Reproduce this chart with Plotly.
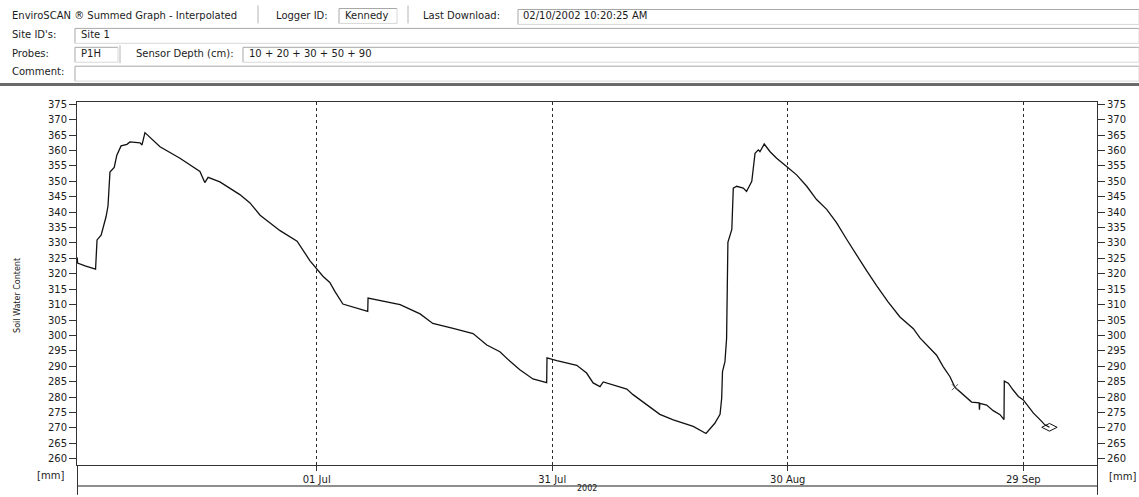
import plotly.graph_objects as go

# ---- summed soil water content, probe P1H (mm) ----
dates = [
    "2002-05-31 12:00", "2002-05-31 13:00", "2002-06-01 12:00", "2002-06-02 20:00",
    "2002-06-03 00:30", "2002-06-03 13:00", "2002-06-04 04:00", "2002-06-04 10:00",
    "2002-06-04 16:00", "2002-06-05 05:00", "2002-06-05 13:00", "2002-06-06 02:00",
    "2002-06-06 20:00", "2002-06-07 05:00", "2002-06-08 12:00", "2002-06-08 18:00",
    "2002-06-09 03:00", "2002-06-11 01:00", "2002-06-13 14:00", "2002-06-16 03:00",
    "2002-06-16 18:00", "2002-06-17 04:00", "2002-06-18 16:00", "2002-06-21 05:00",
    "2002-06-22 12:00", "2002-06-23 19:00", "2002-06-26 08:00", "2002-06-28 12:00",
    "2002-06-30 03:00", "2002-07-01 00:00", "2002-07-01 19:00", "2002-07-02 16:00",
    "2002-07-03 08:00", "2002-07-04 08:00", "2002-07-07 12:00", "2002-07-07 13:00",
    "2002-07-09 01:00", "2002-07-11 15:00", "2002-07-14 04:00", "2002-07-15 19:00",
    "2002-07-18 09:00", "2002-07-20 22:00", "2002-07-22 16:00", "2002-07-24 08:00",
    "2002-07-25 15:00", "2002-07-26 21:00", "2002-07-28 13:00", "2002-07-30 07:00",
    "2002-07-30 08:00", "2002-07-31 14:00", "2002-08-03 03:00", "2002-08-04 09:00",
    "2002-08-05 05:00", "2002-08-06 02:00", "2002-08-06 12:00", "2002-08-07 19:00",
    "2002-08-09 12:00", "2002-08-10 07:00", "2002-08-12 01:00", "2002-08-13 17:00",
    "2002-08-15 10:00", "2002-08-17 23:00", "2002-08-19 14:00", "2002-08-20 17:00",
    "2002-08-21 09:00", "2002-08-21 14:00", "2002-08-21 16:30", "2002-08-22 00:00",
    "2002-08-22 05:00", "2002-08-22 07:00", "2002-08-22 09:00", "2002-08-22 21:00",
    "2002-08-23 01:30", "2002-08-23 12:00", "2002-08-24 08:00", "2002-08-24 18:00",
    "2002-08-25 10:00", "2002-08-25 20:00", "2002-08-26 06:00", "2002-08-26 11:00",
    "2002-08-27 00:00", "2002-08-27 18:00", "2002-08-28 14:00", "2002-08-30 02:00",
    "2002-08-31 03:00", "2002-09-01 10:00", "2002-09-02 16:00", "2002-09-03 23:00",
    "2002-09-05 05:00", "2002-09-06 12:00", "2002-09-07 19:00", "2002-09-09 01:00",
    "2002-09-10 08:00", "2002-09-11 18:00", "2002-09-13 07:00", "2002-09-15 00:00",
    "2002-09-15 20:00", "2002-09-16 17:00", "2002-09-17 23:00", "2002-09-18 19:00",
    "2002-09-19 16:00", "2002-09-20 07:00", "2002-09-21 09:00", "2002-09-22 10:00",
    "2002-09-23 09:00", "2002-09-23 10:00", "2002-09-23 11:00", "2002-09-24 08:00",
    "2002-09-25 04:00", "2002-09-26 01:00", "2002-09-26 13:00", "2002-09-26 14:00",
    "2002-09-27 02:00", "2002-09-27 17:00", "2002-09-28 09:00", "2002-09-29 00:00",
    "2002-09-29 15:00", "2002-09-30 07:00", "2002-10-01 03:00", "2002-10-01 18:00",
    "2002-10-02 08:00",
]
soil_water = [
    325.3, 323.5, 322.6, 321.5,
    331.0, 332.5, 338.5, 342.0,
    353.0, 354.5, 358.5, 361.5,
    362.0, 362.8, 362.5, 361.8,
    365.8, 361.2, 357.5, 353.2,
    349.6, 351.3, 349.8, 345.7,
    343.0, 339.0, 334.0, 330.6,
    324.3, 321.5, 319.2, 317.2,
    314.2, 310.2, 307.8, 312.1,
    311.4, 310.0, 307.0, 303.9,
    302.3, 300.6, 296.9, 294.7,
    291.6, 288.9, 285.9, 284.7,
    292.7, 291.8, 290.3, 287.8,
    284.6, 283.4, 284.9, 283.9,
    282.6, 280.8, 277.6, 274.4,
    272.6, 270.5, 268.2, 271.5,
    274.4, 279.6, 288.3, 291.5,
    299.0, 312.0, 330.2, 334.4,
    347.8, 348.4, 347.8, 346.7,
    350.0, 359.1, 360.2, 359.6,
    362.1, 359.6, 357.5, 354.3,
    352.1, 348.4, 344.1, 340.9,
    336.6, 331.2, 325.8, 321.0,
    316.1, 311.0, 306.0, 302.2,
    299.2, 296.8, 293.6, 289.9,
    286.6, 283.2, 280.7, 278.4,
    278.1, 275.9, 278.0, 277.4,
    275.6, 274.3, 272.7, 285.2,
    284.5, 282.3, 280.2, 279.1,
    276.9, 274.8, 272.7, 271.0,
    270.2,
]

# point markers on the trace
cross_date = ["2002-09-20 07:00"]
cross_value = [283.2]
last_date = ["2002-10-02 08:00"]
last_value = [270.2]

# axes
x_tick_dates = ["2002-07-01", "2002-07-31", "2002-08-30", "2002-09-29"]
x_tick_labels = ["01 Jul", "31 Jul", "30 Aug", "29 Sep"]
y_ticks = list(range(260, 380, 5))
x_range = ["2002-05-31 11:15", "2002-10-08 09:20"]
y_range = [257.97, 375.74]

# header fields
title_text = "EnviroSCAN \u00ae Summed Graph - Interpolated"
logger_id = "Kennedy"
last_download = "02/10/2002 10:20:25 AM"
site_ids = "Site 1"
probes = "P1H"
sensor_depth = "10 + 20 + 30 + 50 + 90"

W, H = 1139, 497
PL, PR, PT, PB = 77, 1097, 102, 467


def fx(px):
    return (px - PL) / (PR - PL)


def fy(py):
    return (PB - py) / (PB - PT)


FONT = "DejaVu Sans"
TXT = "#1c1c1c"
AX = "#333333"

fig = go.Figure()
fig.add_trace(go.Scatter(
    x=dates, y=soil_water, mode="lines",
    line=dict(color="#111111", width=1.3), hoverinfo="skip", showlegend=False,
))
fig.add_trace(go.Scatter(
    x=cross_date, y=cross_value, mode="markers",
    marker=dict(symbol="x-thin-open", size=6, color="#555555",
                line=dict(color="#555555", width=1)),
    hoverinfo="skip", showlegend=False,
))
fig.add_trace(go.Scatter(
    x=last_date, y=last_value, mode="markers", yaxis="y2",
    marker=dict(symbol="diamond-wide-open", size=11, color="#111111",
                line=dict(color="#111111", width=1)),
    hoverinfo="skip", showlegend=False,
))

annotations = []


def text(px, py, s, size=10, xanchor="left", yanchor="middle", angle=0):
    annotations.append(dict(
        x=fx(px), y=fy(py), xref="paper", yref="paper", text=s, showarrow=False,
        xanchor=xanchor, yanchor=yanchor, textangle=angle,
        font=dict(family=FONT, size=size, color=TXT),
    ))


# header rows
text(10, 15, title_text)
text(274, 15, "Logger ID:")
text(343, 15, logger_id)
text(421, 15, "Last Download:")
text(521, 15, last_download)
text(10, 34, "Site ID's:")
text(79, 34, site_ids)
text(10, 53, "Probes:")
text(79, 53, probes)
text(134, 53, "Sensor Depth (cm):")
text(247, 53, sensor_depth)
text(10, 71, "Comment:")

# axis captions
text(18, 297, "Soil Water Content", size=8, xanchor="center", angle=-90)
text(66, 478, "[mm]", xanchor="right")
text(1107, 479, "[mm]", xanchor="left")
text(587, 497, "2002", size=8, xanchor="center", yanchor="bottom")

shapes = []


def line(x0, y0, x1, y1, color, width=1):
    shapes.append(dict(
        type="line", xref="paper", yref="paper",
        x0=fx(x0), y0=fy(y0), x1=fx(x1), y1=fy(y1),
        line=dict(color=color, width=width),
    ))


def box(x0, y0, x1, y1):
    line(x0, y0, x1, y0, "#a8a8a8")
    line(x0, y0, x0, y1, "#a8a8a8")
    line(x0, y1, x1, y1, "#d8d8d8")
    line(x1, y0, x1, y1, "#d8d8d8")


# header frames
line(258, 5, 258, 23, "#b4b4b4")
line(408, 5, 408, 23, "#b4b4b4")
box(339, 8, 397, 23)
box(518, 9, 1139, 24)
box(75, 28, 1139, 43)
box(75, 47, 118, 62)
line(120, 45, 120, 63, "#b4b4b4")
box(243, 47, 1139, 62)
box(75, 66, 1139, 81)
line(0, 84.5, W, 84.5, "#6a6a6a", 3)

# bottom band below the plot
line(PL, 488, PR, 488, "#8e8e8e", 2)
line(PL + 0.5, PB, PL + 0.5, H, AX)
line(PR + 0.5, PB, PR + 0.5, H, AX)

fig.update_layout(
    width=W, height=H,
    margin=dict(l=PL, r=W - PR, t=PT, b=H - PB, pad=0),
    paper_bgcolor="white", plot_bgcolor="white",
    font=dict(family=FONT, size=10, color=TXT),
    showlegend=False,
    annotations=annotations,
    shapes=shapes,
    xaxis=dict(
        type="date", range=x_range,
        tickmode="array", tickvals=x_tick_dates, ticktext=x_tick_labels,
        ticks="outside", ticklen=5, tickcolor=AX, tickwidth=1,
        showgrid=True, gridcolor="#2a2a2a", gridwidth=1, griddash="dot",
        showline=True, linecolor=AX, linewidth=1, mirror=True,
        zeroline=False, tickfont=dict(family=FONT, size=10, color=TXT),
    ),
    yaxis=dict(
        range=y_range, tickmode="array", tickvals=y_ticks,
        ticks="outside", ticklen=7, tickcolor=AX, tickwidth=1,
        showgrid=False, zeroline=False,
        showline=True, linecolor=AX, linewidth=1, mirror=True,
        tickfont=dict(family=FONT, size=10, color=TXT),
    ),
    yaxis2=dict(
        range=y_range, tickmode="array", tickvals=y_ticks,
        overlaying="y", side="right",
        ticks="outside", ticklen=7, tickcolor=AX, tickwidth=1,
        showgrid=False, zeroline=False, showline=False,
        tickfont=dict(family=FONT, size=10, color=TXT),
    ),
)

fig.write_html("out.html", config={"displayModeBar": False})
